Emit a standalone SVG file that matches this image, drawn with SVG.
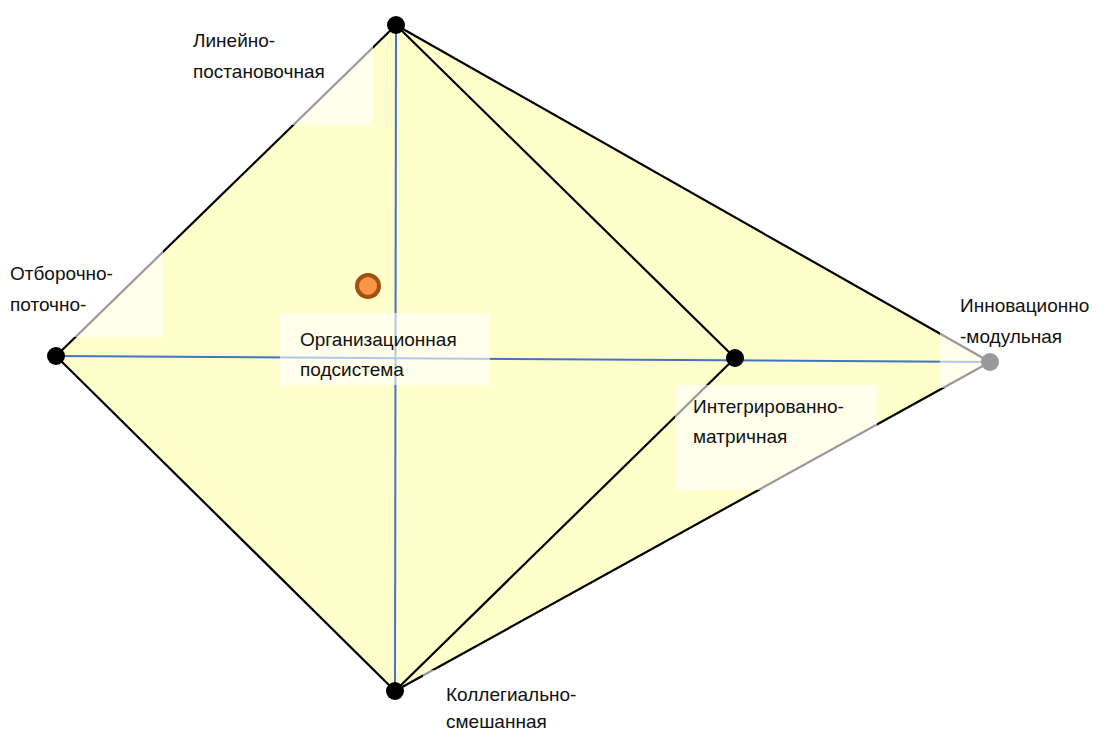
<svg xmlns="http://www.w3.org/2000/svg" width="1098" height="734" viewBox="0 0 1098 734">
<style>
.edge{stroke:#000;stroke-width:2.2;fill:none;stroke-linecap:round}
.axis{stroke:#4472C4;stroke-width:2;fill:none}
.node{fill:#000}
.box{fill:#fff;fill-opacity:0.6}
.lbl{font-family:"Liberation Sans",Arial,sans-serif;font-size:19px;fill:#111}
</style>
<rect width="1098" height="734" fill="#fff"/>
<polygon id="area" points="396,25 56,356 395,691 990,362" fill="#FFFFCC"/>
<g id="connectors">
<line class="edge" x1="396" y1="25" x2="56" y2="356"/>
<line class="edge" x1="56" y1="356" x2="395" y2="691"/>
<line class="edge" x1="396" y1="25" x2="990" y2="362"/>
<line class="edge" x1="396" y1="25" x2="735" y2="358"/>
<line class="edge" x1="395" y1="691" x2="735" y2="358"/>
<line class="edge" x1="395" y1="691" x2="990" y2="362"/>
<line class="axis" x1="396" y1="25" x2="395" y2="691"/>
<line class="axis" x1="56" y1="356" x2="990" y2="362"/>
</g>
<g id="node-top">
<circle class="node" cx="396" cy="25" r="9"/>
<rect class="box" x="180" y="16" width="193" height="109"/>
<text class="lbl" x="193" y="47">Линейно-</text>
<text class="lbl" x="193" y="78">постановочная</text>
</g>
<g id="node-left">
<circle class="node" cx="56" cy="356" r="9"/>
<rect class="box" x="0" y="247" width="163" height="90"/>
<text class="lbl" x="10" y="280">Отборочно-</text>
<text class="lbl" x="10" y="311">поточно-</text>
</g>
<g id="node-mid">
<circle class="node" cx="735" cy="358" r="9"/>
<rect class="box" x="675" y="385" width="202" height="105"/>
<text class="lbl" x="693" y="413">Интегрированно-</text>
<text class="lbl" x="693" y="443">матричная</text>
</g>
<g id="node-right">
<circle class="node" cx="990" cy="362" r="9"/>
<rect class="box" x="940" y="279" width="158" height="109"/>
<text class="lbl" x="960" y="312">Инновационно</text>
<text class="lbl" x="960" y="343">-модульная</text>
</g>
<g id="node-bottom">
<circle class="node" cx="395" cy="691" r="9"/>
<rect class="box" x="423" y="670" width="160" height="64"/>
<text class="lbl" x="446" y="701">Коллегиально-</text>
<text class="lbl" x="446" y="728">смешанная</text>
</g>
<g id="node-center">
<circle cx="368" cy="286" r="11" fill="#F79646" stroke="#A0500F" stroke-width="4"/>
<rect class="box" x="280" y="313" width="210" height="72"/>
<text class="lbl" x="300" y="346">Организационная</text>
<text class="lbl" x="300" y="376">подсистема</text>
</g>
</svg>
